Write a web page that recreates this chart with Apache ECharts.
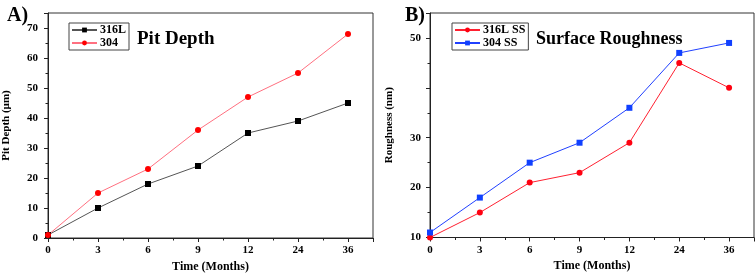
<!DOCTYPE html>
<html>
<head>
<meta charset="utf-8">
<script src="https://cdn.jsdelivr.net/npm/echarts@6/dist/echarts.min.js"></script>
<style>html,body{margin:0;padding:0;background:#fff}#c{width:756px;height:273px}</style>
</head>
<body>
<div id="c"></div>
<script>
const monthLabels = ['0','3','6','9','12','24','36'];
const pit316L = [1,10,18,24,35,39,45];
const pit304 = [1,15,23,36,47,55,68];
const rough316L = [10,15,21,23,29,45,40];
const rough304 = [11,18,25,29,36,47,49];
const pitTicks = [0,10,20,30,40,50,60,70];
const roughTicks = [10,20,30,50];

const FF = 'Liberation Serif';
const pts = arr => arr.map((v,i)=>[i,v]);

function xAxis(gi){
  return {
    gridIndex: gi, type:'value', min:0, max:6.5, interval:1,
    name:'Time (Months)', nameLocation:'middle', nameGap:22,
    nameTextStyle:{fontFamily:FF, fontWeight:'bold', fontSize:12, color:'#000'},
    axisLine:{onZero:false, lineStyle:{color:'#222', width:1}},
    axisTick:{show:true, length:4, lineStyle:{color:'#222'}},
    minorTick:{show:true, splitNumber:2, length:2.5, lineStyle:{color:'#222'}},
    splitLine:{show:false},
    axisLabel:{fontFamily:FF, fontWeight:'bold', fontSize:11, color:'#000', margin:7,
      showMaxLabel:false,
      formatter:v => (Number.isInteger(v) && monthLabels[v]!==undefined) ? monthLabels[v] : ''}
  };
}
function yAxis(gi, min, max, ticks, name, gap, lm){
  return {
    gridIndex: gi, type:'value', min:min, max:max, interval:10,
    name:name, nameLocation:'middle', nameGap:gap,
    nameTextStyle:{fontFamily:FF, fontWeight:'bold', fontSize:11, color:'#000'},
    axisLine:{show:true, lineStyle:{color:'#222', width:1}},
    axisTick:{show:true, length:4, lineStyle:{color:'#222'}},
    minorTick:{show:true, splitNumber:2, length:2.5, lineStyle:{color:'#222'}},
    splitLine:{show:false},
    axisLabel:{fontFamily:FF, fontWeight:'bold', fontSize:11, color:'#000', margin:lm,
      showMaxLabel:false,
      formatter:v => ticks.indexOf(v)>=0 ? String(v) : ''}
  };
}
function legend(left, names){
  return {
    left:left, top:23, orient:'vertical', data:names,
    itemWidth:25, itemHeight:6, itemGap:1,
    borderColor:'#444', borderWidth:1, padding:[1,3,1,2],
    textStyle:{fontFamily:FF, fontWeight:'bold', fontSize:12, lineHeight:12, color:'#000', padding:[0,0,0,-2]}
  };
}
function line(name, gi, data, lineColor, symColor, symbol){
  return {
    name:name, type:'line', xAxisIndex:gi, yAxisIndex:gi, data:pts(data),
    symbol:symbol, symbolSize:6, showSymbol:true,
    lineStyle:{color:lineColor, width:1},
    itemStyle:{color:symColor, borderWidth:0},
    emphasis:{disabled:true}, animation:false
  };
}

const chart = echarts.init(document.getElementById('c'), null, {renderer:'canvas'});
chart.setOption({
  animation:false,
  backgroundColor:'#fff',
  title:[
    {text:'A)', left:2, top:1, textStyle:{fontFamily:FF, fontWeight:'bold', fontSize:20, color:'#000'}},
    {text:'B)', left:400, top:1, textStyle:{fontFamily:FF, fontWeight:'bold', fontSize:20, color:'#000'}},
    {text:'Pit Depth', left:132, top:25, textStyle:{fontFamily:FF, fontWeight:'bold', fontSize:19, color:'#000'}},
    {text:'Surface Roughness', left:531, top:25, textStyle:{fontFamily:FF, fontWeight:'bold', fontSize:18, color:'#000'}}
  ],
  grid:[
    {left:48, right:383, top:13, bottom:35, show:true, borderColor:'#333', borderWidth:1, backgroundColor:'transparent', outerBoundsMode:'none', containLabel:false},
    {left:430, right:2, top:13, bottom:35.5, show:true, borderColor:'#333', borderWidth:1, backgroundColor:'transparent', outerBoundsMode:'none', containLabel:false}
  ],
  legend:[
    legend(69, ['316L','304']),
    legend(452, ['316L SS','304 SS'])
  ],
  xAxis:[xAxis(0), xAxis(1)],
  yAxis:[
    yAxis(0, 0, 75, pitTicks, 'Pit Depth (µm)', 36, 10),
    yAxis(1, 10, 55, roughTicks, 'Roughness (nm)', 35, 9)
  ],
  series:[
    line('316L', 0, pit316L, '#555555', '#000000', 'rect'),
    line('304', 0, pit304, '#ff7080', '#ff0000', 'circle'),
    line('316L SS', 1, rough316L, '#ff2030', '#ff0010', 'circle'),
    line('304 SS', 1, rough304, '#2040ff', '#1040ff', 'rect')
  ]
});
</script>
</body>
</html>
